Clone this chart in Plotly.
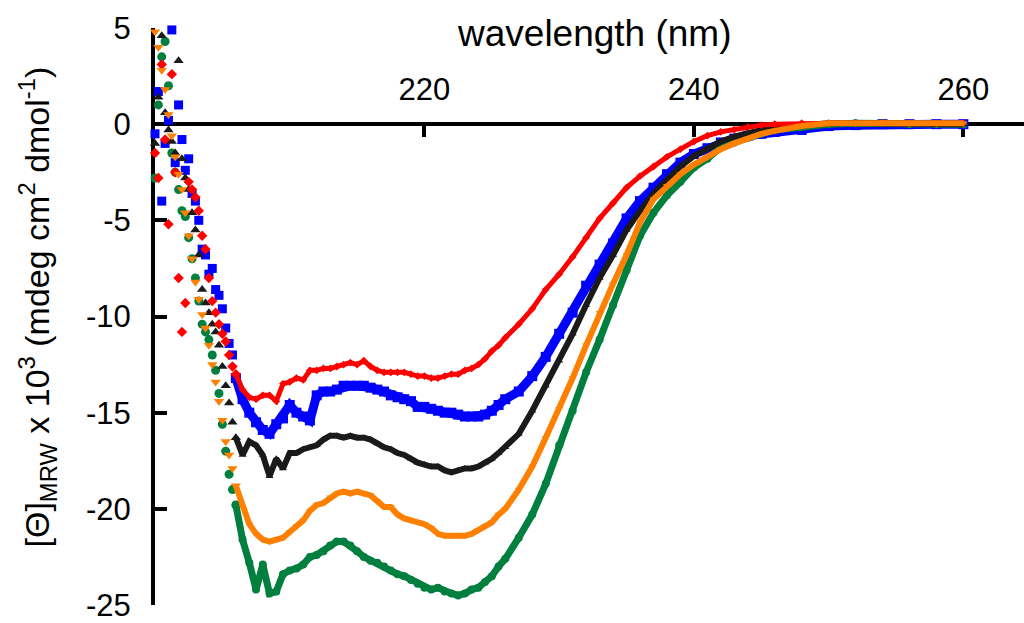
import plotly.graph_objects as go

# ---------------- data ----------------
wavelength = [200.0, 200.25, 200.5, 200.75, 201.0, 201.25, 201.5, 201.75, 202.0, 202.25,
              202.5, 202.75, 203.0, 203.25, 203.5, 203.75, 204.0, 204.25, 204.5, 204.75,
              205.0, 205.25, 205.5, 205.75, 206.0,
              206.5, 207.0, 207.5, 208.0, 208.5, 209.0, 209.5, 210.0, 210.5, 211.0,
              211.5, 212.0, 212.5, 213.0, 213.5, 214.0, 214.5, 215.0, 215.5, 216.0,
              216.5, 217.0, 217.5, 218.0, 218.5, 219.0, 219.5, 220.0, 220.5, 221.0,
              221.5, 222.0, 222.5, 223.0, 223.5, 224.0, 224.5, 225.0, 225.5, 226.0,
              227, 228, 229, 230, 231, 232, 233, 234, 235, 236,
              237, 238, 239, 240, 241, 242, 243, 244, 245, 246,
              248, 250, 252, 254, 256, 258, 260]

red_values = [-1.5, -2.8, 3.1, -0.8, -5.2, 2.6, -2.5, -8.0, -10.8, -9.3,
              -3.0, -3.4, -3.8, -4.5, -5.8, -6.5, -8.0, -9.2, -9.8, -10.4,
              -10.9, -11.3, -12.0, -12.6, -13.0,
              -13.8, -14.2, -14.3, -14.1, -14.1, -14.4, -13.5, -13.4, -13.2, -13.3,
              -12.8, -12.8, -12.7, -12.7, -12.6, -12.5, -12.4, -12.5, -12.3, -12.6,
              -12.8, -12.9, -12.9, -12.9, -12.9, -13.0, -13.1, -13.1, -13.2, -13.2,
              -13.1, -13.0, -13.0, -12.8, -12.7, -12.5, -12.2, -11.8, -11.5, -11.1,
              -10.4, -9.6, -8.6, -7.8, -6.9, -5.9, -4.9, -4.1, -3.3, -2.7,
              -2.2, -1.7, -1.3, -0.9, -0.6, -0.4, -0.28, -0.15, -0.05, 0.0,
              0.05, 0.05, 0.05, 0.08, 0.05, 0.05, 0.05]

blue_values = [-0.5, 1.7, -4.0, -1.0, 0.2, 4.9, -2.0, 1.0, -0.8, -2.4,
               -1.8, -3.6, -4.0, -5.0, -6.5, -6.8, -7.8, -7.5, -8.6, -8.9,
               -9.6, -10.6, -11.4, -12.0, -13.2,
               -14.3, -15.0, -15.5, -15.9, -16.1, -15.6, -15.3, -14.6, -15.0, -15.2,
               -15.4, -14.1, -13.9, -13.9, -13.8, -13.6, -13.6, -13.6, -13.6, -13.7,
               -13.8, -13.9, -14.1, -14.2, -14.3, -14.4, -14.7, -14.7, -14.8, -14.9,
               -15.0, -15.0, -15.1, -15.2, -15.2, -15.2, -15.1, -14.9, -14.6, -14.3,
               -13.9, -13.1, -12.1, -10.9, -9.8, -8.4, -7.3, -6.2, -4.9, -4.0,
               -3.3, -2.6, -2.0, -1.55, -1.25, -0.95, -0.75, -0.6, -0.5, -0.4,
               -0.3, -0.1, -0.05, 0.0, 0.0, 0.0, 0.0]

black_values = [-1.0, 1.4, 4.6, 0.6, -0.3, -0.9, -1.5, 3.3, -1.8, -2.8,
                -3.4, -4.6, -5.5, -6.8, -8.6, -9.3, -9.8, -10.4, -10.8, -11.5,
                -12.6, -13.6, -14.5, -15.5, -16.3,
                -17.2, -16.5, -16.7, -17.2, -18.3, -17.4, -17.9, -17.1, -17.1, -16.9,
                -16.8, -16.7, -16.4, -16.2, -16.2, -16.3, -16.2, -16.3, -16.3, -16.4,
                -16.6, -16.8, -16.9, -17.1, -17.2, -17.4, -17.6, -17.7, -17.8, -17.8,
                -18.0, -18.1, -18.0, -17.9, -17.9, -17.8, -17.6, -17.4, -17.1, -16.8,
                -16.1, -14.9, -13.6, -12.3, -10.9, -9.4, -8.0, -6.8, -5.5, -4.5,
                -3.6, -2.9, -2.2, -1.65, -1.25, -0.9, -0.65, -0.45, -0.3, -0.2,
                -0.05, 0.05, 0.05, 0.05, 0.05, 0.0, 0.0]

orange_values = [4.8, 4.0, 2.8, 1.8, 0.5, -0.6, -1.7, -2.6, -3.4, -4.6,
                 -5.8, -7.0, -8.2, -9.1, -9.9, -10.6, -11.5, -12.5, -13.4, -14.4,
                 -15.4, -16.5, -17.2, -17.9, -18.8,
                 -19.9, -20.8, -21.3, -21.6, -21.7, -21.6, -21.5, -21.2, -20.9, -20.6,
                 -20.1, -19.8, -19.7, -19.4, -19.2, -19.1, -19.2, -19.1, -19.2, -19.3,
                 -19.6, -19.9, -19.9, -20.3, -20.5, -20.6, -20.7, -20.8, -21.0, -21.3,
                 -21.4, -21.4, -21.4, -21.4, -21.3, -21.1, -20.9, -20.7, -20.3, -20.0,
                 -19.0, -17.8, -16.3, -14.8, -13.2, -11.5, -9.8, -8.3, -6.8, -5.1,
                 -3.9, -3.2, -2.6, -2.1, -1.7, -1.3, -1.0, -0.75, -0.5, -0.35,
                 -0.1, 0.05, 0.05, 0.1, 0.05, 0.05, 0.05]

green_values = [-2.8, 1.0, 3.5, 4.3, 2.0, -1.5, -2.5, -3.4, -4.5, -4.8,
                -5.9, -7.0, -8.0, -9.2, -10.4, -10.8, -11.2, -12.0, -12.8, -14.0,
                -15.6, -17.0, -18.2, -19.0, -19.8,
                -21.6, -22.8, -24.2, -22.9, -24.4, -24.3, -23.4, -23.2, -23.1, -22.9,
                -22.5, -22.4, -22.2, -21.9, -21.7, -21.7, -21.9, -22.2, -22.5, -22.7,
                -22.8, -23.0, -23.2, -23.4, -23.5, -23.7, -23.9, -24.1, -24.2, -24.1,
                -24.3, -24.4, -24.5, -24.4, -24.2, -24.1, -23.8, -23.5, -23.0, -22.6,
                -21.5, -20.3, -18.7, -16.7, -14.9, -12.9, -11.2, -9.4, -7.6, -5.8,
                -4.6, -3.7, -3.0, -2.25, -1.8, -1.2, -0.95, -0.7, -0.5, -0.3,
                -0.15, 0.0, 0.05, 0.05, 0.0, 0.0, 0.0]

x_tick_values = [220, 240, 260]
x_tick_labels = ["220", "240", "260"]
y_tick_values = [-25, -20, -15, -10, -5, 0, 5]
y_tick_labels = ["-25", "-20", "-15", "-10", "-5", "0", "5"]

# ---------------- figure ----------------
FONT = "Arial, 'Liberation Sans', sans-serif"
noisy_end = 206.0  # below this the spectra are drawn as scattered markers only

series = [
    ("blue", blue_values, "#0000ff", "square", 9, 9),
    ("green", green_values, "#007f3f", "circle", 9, 7),
    ("black", black_values, "#1a1a1a", "triangle-up", 9, 6),
    ("red", red_values, "#ff0000", "diamond", 8, 5),
    ("orange", orange_values, "#ff8000", "triangle-down", 9, 6),
]

fig = go.Figure()
for name, vals, color, symbol, msize, lw in series:
    xs_a = [w for w in wavelength if w <= noisy_end]
    ys_a = [v for w, v in zip(wavelength, vals) if w <= noisy_end]
    xs_b = [w for w in wavelength if w >= noisy_end]
    ys_b = [v for w, v in zip(wavelength, vals) if w >= noisy_end]
    fig.add_trace(go.Scatter(x=xs_a, y=ys_a, mode="markers", name=name,
                             marker=dict(color=color, symbol=symbol, size=msize, line=dict(width=0)),
                             cliponaxis=False, showlegend=False))
    fig.add_trace(go.Scatter(x=xs_b, y=ys_b, mode="lines+markers", name=name,
                             line=dict(color=color, width=lw),
                             marker=dict(color=color, symbol=symbol, size=lw + 1, line=dict(width=0)),
                             cliponaxis=False, showlegend=False))

fig.update_layout(
    width=1024, height=623,
    margin=dict(l=155, r=0, t=28, b=11),
    paper_bgcolor="white", plot_bgcolor="white",
    font=dict(family=FONT, color="black"),
    showlegend=False,
    xaxis=dict(
        range=[200, 264.5], side="top", anchor="free", position=25 / 30,
        showline=True, linecolor="black", linewidth=4,
        tickvals=x_tick_values, ticktext=x_tick_labels,
        ticks="inside", ticklen=11, tickwidth=4, tickcolor="black",
        tickfont=dict(size=31, family=FONT, color="black"),
        ticklabelstandoff=10, ticklabeloverflow="allow",
        showgrid=False, zeroline=False, layer="below traces",
    ),
    yaxis=dict(
        range=[-25, 5],
        showline=True, linecolor="black", linewidth=4,
        tickvals=y_tick_values, ticktext=y_tick_labels,
        ticks="inside", ticklen=12, tickwidth=4, tickcolor="black",
        tickfont=dict(size=31, family=FONT, color="black"),
        ticklabelstandoff=14, ticklabeloverflow="allow",
        showgrid=False, zeroline=False, layer="below traces",
    ),
    annotations=[
        dict(text="wavelength (nm)", xref="paper", yref="paper",
             x=0.506, y=0.99, xanchor="center", yanchor="middle", showarrow=False,
             font=dict(size=37, family=FONT, color="black")),
        dict(text="[Θ]<sub>MRW</sub> x 10<sup>3</sup> (mdeg cm<sup>2</sup> dmol<sup>-1</sup>)",
             xref="paper", yref="paper", x=-0.136, y=0.517, textangle=-90,
             xanchor="center", yanchor="middle", showarrow=False,
             font=dict(size=34, family=FONT, color="black")),
    ],
)

fig.write_html("out.html", config={"displayModeBar": False},
               post_script="document.body.style.margin='0';")
